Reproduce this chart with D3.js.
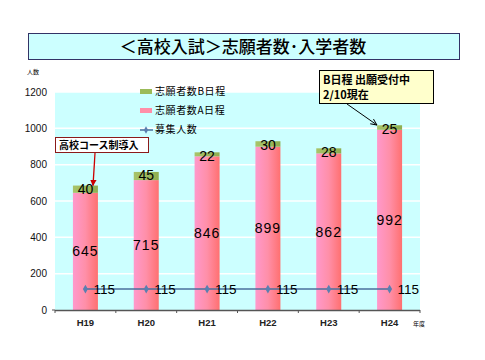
<!DOCTYPE html>
<html><head><meta charset="utf-8">
<script src="https://cdn.jsdelivr.net/npm/d3@7"></script>
<style>body{margin:0;background:#fff;} svg{display:block;}</style>
</head><body>
<svg id="c" width="485" height="360"></svg>
<script>
const categories = ["H19","H20","H21","H22","H23","H24"];
const valuesA = [645,715,846,899,862,992];
const valuesB = [40,45,22,30,28,25];
const recruit = [115,115,115,115,115,115];
const yTicks = [0,200,400,600,800,1000,1200];
const legendLabels = ["志願者数B日程","志願者数A日程","募集人数"];

const svg = d3.select("#c");
const jp = "'Noto Sans CJK JP', sans-serif";
const num = "'Liberation Sans', Arial, sans-serif";
const L=55, R=420, T=92, B=310;

const defs = svg.append("defs");
const g = defs.append("linearGradient").attr("id","pk").attr("x1","0").attr("x2","1");
g.append("stop").attr("offset","0").attr("stop-color","#ff99cc");
g.append("stop").attr("offset","0.5").attr("stop-color","#ff8fa8");
g.append("stop").attr("offset","1").attr("stop-color","#ff7070");
const gg = defs.append("linearGradient").attr("id","gr").attr("x1","0").attr("x2","1");
gg.append("stop").attr("offset","0").attr("stop-color","#a8c46a");
gg.append("stop").attr("offset","1").attr("stop-color","#8fae50");
const mk = defs.append("marker").attr("id","ar").attr("viewBox","0 0 10 10").attr("refX",9).attr("refY",5)
 .attr("markerWidth",7).attr("markerHeight",7).attr("orient","auto");
mk.append("path").attr("d","M0,1 L9,5 L0,9").attr("fill","none").attr("stroke","#000").attr("stroke-width",1.3);
const mk2 = defs.append("marker").attr("id","ar2").attr("viewBox","0 0 10 10").attr("refX",9).attr("refY",5)
 .attr("markerWidth",5).attr("markerHeight",5).attr("orient","auto");
mk2.append("path").attr("d","M0,0 L10,5 L0,10 z").attr("fill","#cc0000");

// title
svg.append("rect").attr("x",28.5).attr("y",33.5).attr("width",431).attr("height",26)
 .attr("fill","#ccffff").attr("stroke","#333366").attr("stroke-width",1);
svg.append("text").attr("x",243).attr("y",52.5).attr("text-anchor","middle")
 .attr("font-family",jp).attr("font-size",17).attr("font-weight",500).text("＜高校入試＞志願者数･入学者数");

const x = d3.scaleBand().domain(categories).range([L,R]);
const y = d3.scaleLinear().domain([0,1200]).range([B,T]);

svg.append("rect").attr("x",L).attr("y",T).attr("width",R-L).attr("height",B-T).attr("fill","#ccffff");
svg.append("g").selectAll("line").data(yTicks.filter(d=>d>0)).join("line")
 .attr("x1",L).attr("x2",R).attr("y1",d=>y(d)).attr("y2",d=>y(d)).attr("stroke","#fff").attr("stroke-width",1.5);

// y labels
svg.append("g").selectAll("text").data(yTicks).join("text")
 .attr("x",47).attr("y",d=>y(d)+3.5).attr("text-anchor","end")
 .attr("font-family",num).attr("font-size",10).attr("fill","#111").text(d=>d);
svg.append("text").attr("x",27).attr("y",74).attr("font-family",jp).attr("font-size",6).text("人数");

const bw = 25;
const cx = d => x(d)+x.bandwidth()/2;
const bars = svg.append("g");
bars.selectAll(".a").data(categories).join("rect")
 .attr("x",d=>cx(d)-bw/2).attr("width",bw)
 .attr("y",(d,i)=>y(valuesA[i])).attr("height",(d,i)=>y(0)-y(valuesA[i])).attr("fill","url(#pk)");
bars.selectAll(".b").data(categories).join("rect")
 .attr("x",d=>cx(d)-bw/2).attr("width",bw)
 .attr("y",(d,i)=>y(valuesA[i]+valuesB[i])).attr("height",(d,i)=>y(valuesA[i])-y(valuesA[i]+valuesB[i])).attr("fill","url(#gr)");

// axis
svg.append("line").attr("x1",L).attr("x2",R).attr("y1",B+0.5).attr("y2",B+0.5).attr("stroke","#555").attr("stroke-width",1.5);
const bounds = categories.map(d=>x(d)).concat([R]);
svg.append("g").selectAll("line").data(bounds).join("line")
 .attr("x1",d=>d).attr("x2",d=>d).attr("y1",B).attr("y2",B+3).attr("stroke","#555");
svg.append("line").attr("x1",L-3).attr("x2",L).attr("y1",B).attr("y2",B).attr("stroke","#555");
svg.append("g").selectAll("text").data(categories).join("text")
 .attr("x",d=>cx(d)).attr("y",326).attr("text-anchor","middle")
 .attr("font-family",num).attr("font-size",9.5).attr("font-weight","bold").attr("fill","#222").text(d=>d);
svg.append("text").attr("x",413).attr("y",326).attr("font-family",jp).attr("font-size",6).text("年度");

// labels
svg.append("g").selectAll("text").data(categories).join("text")
 .attr("x",d=>cx(d)).attr("y",(d,i)=>y(valuesA[i]/2)+5).attr("text-anchor","middle")
 .attr("font-family",num).attr("font-size",14).attr("letter-spacing",1).attr("fill","#000").text((d,i)=>valuesA[i]);
svg.append("g").selectAll("text").data(categories).join("text")
 .attr("x",d=>cx(d)).attr("y",(d,i)=>y(valuesA[i]+valuesB[i])+8.5).attr("text-anchor","middle")
 .attr("font-family",num).attr("font-size",14).attr("fill","#000").text((d,i)=>valuesB[i]);

// line
const line = d3.line().x((d,i)=>cx(categories[i])).y(d=>y(d));
svg.append("path").attr("d",line(recruit)).attr("fill","none").attr("stroke","#4a6f9c").attr("stroke-width",1.5);
svg.append("g").selectAll("path").data(recruit).join("path")
 .attr("transform",(d,i)=>`translate(${cx(categories[i])},${y(d)})`)
 .attr("d",d3.symbol(d3.symbolDiamond,22)).attr("fill","#5a7fb0");
svg.append("g").selectAll("text").data(recruit).join("text")
 .attr("x",(d,i)=>cx(categories[i])+8).attr("y",d=>y(d)+5)
 .attr("font-family",num).attr("font-size",13.5).attr("fill","#000").text(d=>d);

// legend
const lg = svg.append("g");
lg.append("rect").attr("x",140).attr("y",89).attr("width",12).attr("height",5).attr("fill","#9bbb59");
lg.append("rect").attr("x",140).attr("y",108).attr("width",12).attr("height",5).attr("fill","#ff8fa8");
lg.append("line").attr("x1",140).attr("x2",153).attr("y1",130).attr("y2",130).attr("stroke","#4a6f9c").attr("stroke-width",1.5);
lg.append("path").attr("transform","translate(146,130)").attr("d",d3.symbol(d3.symbolDiamond,16)).attr("fill","#5a7fb0");
lg.selectAll("text").data(legendLabels).join("text")
 .attr("x",155).attr("y",(d,i)=>95+i*19).attr("font-family",jp).attr("font-size",10).attr("letter-spacing",0.6).text(d=>d);

// annotation 1
svg.append("rect").attr("x",55.5).attr("y",137.5).attr("width",93).attr("height",15).attr("fill","#fff").attr("stroke","#8b1a1a");
svg.append("text").attr("x",59).attr("y",149).attr("font-family",jp).attr("font-size",10).attr("font-weight","bold").text("高校コース制導入");
svg.append("line").attr("x1",95).attr("y1",153).attr("x2",93).attr("y2",y(valuesA[0]+valuesB[0])).attr("stroke","#cc0000").attr("stroke-width",1.3).attr("marker-end","url(#ar2)");

// annotation 2
svg.append("rect").attr("x",319.5).attr("y",70.5).attr("width",114).attr("height",33).attr("fill","#ffffcc").attr("stroke","#000");
svg.append("text").attr("x",323).attr("y",84).attr("font-family",jp).attr("font-size",11).attr("font-weight","bold").text("B日程 出願受付中");
svg.append("text").attr("x",323).attr("y",99).attr("font-family",jp).attr("font-size",11).attr("font-weight","bold").text("2/10現在");
svg.append("line").attr("x1",347).attr("y1",104).attr("x2",377).attr("y2",125).attr("stroke","#000").attr("marker-end","url(#ar)");
</script>
</body></html>
